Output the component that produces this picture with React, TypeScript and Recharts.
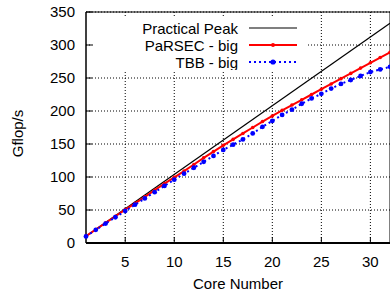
import { LineChart, Line, XAxis, YAxis, CartesianGrid, Legend } from "recharts";

const cores = [
  1, 2, 3, 4, 5, 6, 7, 8, 9, 10, 11, 12, 13, 14, 15, 16, 17, 18, 19, 20, 21,
  22, 23, 24, 25, 26, 27, 28, 29, 30, 31, 32,
];
const parsecBig = [
  10.5, 20.5, 30.5, 40.5, 50.5, 60, 70, 80, 90, 99.5, 109, 119, 129, 138.5,
  148, 157, 166, 175, 184, 192.5, 201, 209, 217, 225, 233, 241, 249, 257, 265,
  273, 281, 289,
];
const tbbBig = [
  10, 20, 29.5, 39, 48.5, 58, 67.5, 77, 86.5, 96, 105, 114, 123, 132, 141,
  149, 157, 166, 176, 185, 194, 202, 211, 219, 226, 234, 241, 247, 253, 259,
  263, 267,
];
const peakCores = [1, 32];
const peakValues = [10.4, 333];

const xTicks = [5, 10, 15, 20, 25, 30];
const yTicks = [0, 50, 100, 150, 200, 250, 300, 350];

const FONT = "'Liberation Sans', Arial, Helvetica, sans-serif";

const rows = cores.map((c, i) => ({
  core: c,
  parsec: parsecBig[i],
  tbb: tbbBig[i],
}));
const peakRows = peakCores.map((c, i) => ({ core: c, peak: peakValues[i] }));

const series = [
  { key: "peak", name: "Practical Peak", color: "#000000", dash: undefined, dot: 0 },
  { key: "parsec", name: "PaRSEC - big", color: "#ff0000", dash: undefined, dot: 2 },
  { key: "tbb", name: "TBB - big", color: "#0000ff", dash: "2 3", dot: 2.6 },
];

// gnuplot style key with opaque white box
function KeyBox() {
  return (
    <svg width={214} height={52} style={{ display: "block", fontFamily: FONT }}>
      {series.map((s, i) => {
        const cy = 10 + i * 17;
        return (
          <g key={s.key}>
            <text x={145} y={cy + 5.5} textAnchor="end" fontSize={15} fill="#000">
              {s.name}
            </text>
            <line
              x1={156}
              x2={204}
              y1={cy}
              y2={cy}
              stroke={s.color}
              strokeWidth={s.key === "peak" ? 1.2 : 2}
              strokeDasharray={s.dash}
            />
            {s.dot > 0 && <circle cx={180} cy={cy} r={s.dot} fill={s.color} />}
          </g>
        );
      })}
    </svg>
  );
}

export default function App() {
  const tickStyle = { fontSize: 15, fill: "#000", fontFamily: FONT };
  return (
    <div style={{ position: "absolute", left: 0, top: 0, fontFamily: FONT }}>
      <LineChart
        width={390}
        height={297}
        data={rows}
        margin={{ top: 11, right: -1, bottom: 0, left: 0 }}
      >
        <CartesianGrid
          stroke="#000"
          strokeWidth={1}
          strokeDasharray="1 2"
          horizontalValues={yTicks}
          verticalValues={xTicks}
        />
        <XAxis
          dataKey="core"
          type="number"
          domain={[1, 32]}
          ticks={xTicks}
          height={54}
          tickSize={-6}
          tickMargin={19}
          tick={tickStyle}
          axisLine={{ stroke: "#000", strokeWidth: 2 }}
          tickLine={{ stroke: "#000" }}
          label={{
            value: "Core Number",
            position: "insideBottom",
            offset: 8,
            style: { fontSize: 15, fill: "#000", fontFamily: FONT },
          }}
        />
        <XAxis
          xAxisId="top"
          orientation="top"
          dataKey="core"
          type="number"
          domain={[1, 32]}
          ticks={xTicks}
          height={1}
          tickSize={-6}
          tick={false}
          axisLine={{ stroke: "#000" }}
          tickLine={{ stroke: "#000" }}
        />
        <YAxis
          type="number"
          domain={[0, 350]}
          ticks={yTicks}
          width={86}
          tickSize={-6}
          tickMargin={17}
          tick={tickStyle}
          axisLine={{ stroke: "#000", strokeWidth: 1.5 }}
          tickLine={{ stroke: "#000" }}
          label={{
            value: "Gflop/s",
            angle: -90,
            position: "center",
            dx: -25,
            dy: 6,
            style: { fontSize: 15, fill: "#000", fontFamily: FONT },
          }}
        />
        <YAxis
          yAxisId="right"
          orientation="right"
          type="number"
          domain={[0, 350]}
          ticks={yTicks}
          width={1}
          tickSize={-6}
          tick={false}
          axisLine={{ stroke: "#000" }}
          tickLine={{ stroke: "#000" }}
        />
        <Legend
          layout="vertical"
          align="center"
          verticalAlign="middle"
          wrapperStyle={{
            position: "absolute",
            left: 93,
            top: 18,
            width: 214,
            height: 52,
            background: "#fff",
          }}
          content={() => <KeyBox />}
        />
        <Line
          data={peakRows}
          dataKey="peak"
          name="Practical Peak"
          stroke="#000"
          strokeWidth={1.2}
          dot={false}
          isAnimationActive={false}
        />
        <Line
          dataKey="parsec"
          name="PaRSEC - big"
          stroke="#ff0000"
          strokeWidth={2}
          dot={{ r: 1.8, fill: "#ff0000", stroke: "none" }}
          isAnimationActive={false}
        />
        <Line
          dataKey="tbb"
          name="TBB - big"
          stroke="#0000ff"
          strokeWidth={2}
          strokeDasharray="2 3"
          dot={{ r: 2.4, fill: "#0000ff", stroke: "none" }}
          isAnimationActive={false}
        />
      </LineChart>
    </div>
  );
}
